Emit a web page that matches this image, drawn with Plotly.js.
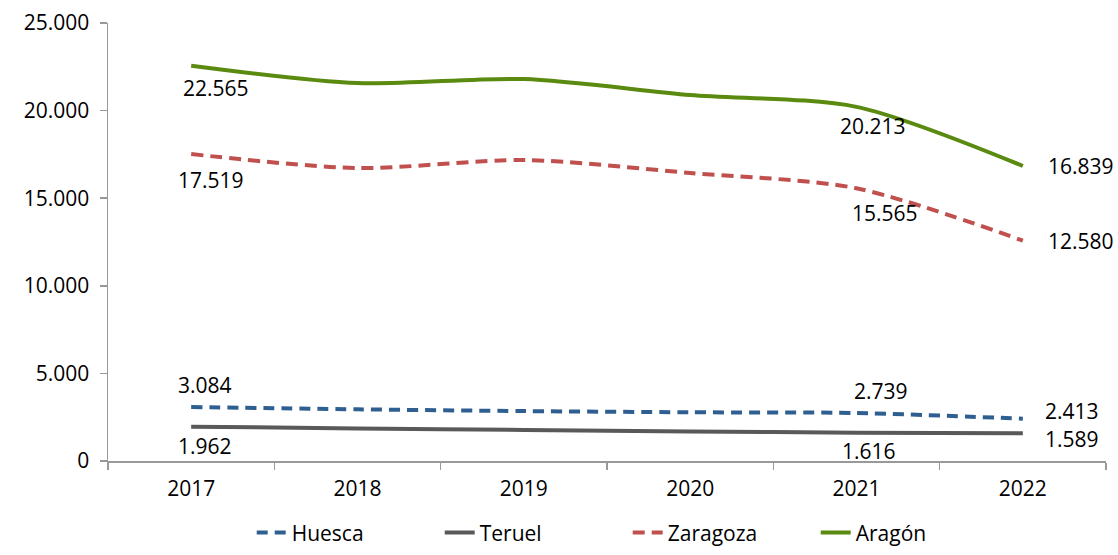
<!DOCTYPE html>
<html>
<head>
<meta charset="utf-8">
<script src="https://cdn.plot.ly/plotly-3.0.1.min.js"></script>
<style>html,body{margin:0;padding:0;background:#fff;}#chart{width:1118px;height:555px;}</style>
</head>
<body>
<div id="chart"></div>
<script>
const years = ['2017', '2018', '2019', '2020', '2021', '2022'];
const huesca = [3084, 2950, 2850, 2780, 2739, 2413];
const teruel = [1962, 1860, 1770, 1690, 1616, 1589];
const zaragoza = [17519, 16720, 17180, 16440, 15565, 12580];
const aragon = [22565, 21570, 21800, 20890, 20213, 16839];
const tickVals = [0, 5000, 10000, 15000, 20000, 25000];
const tickText = ['0', '5.000', '10.000', '15.000', '20.000', '25.000'];
const labeledIdx = [0, 4, 5];

const fmt = v => String(v).replace(/\B(?=(\d{3})+(?!\d))/g, '.');
const font = 'Open Sans, Noto Sans, sans-serif';

const series = [
  {name: 'Huesca', y: huesca, color: '#2F5F91', dash: '11px,7px',
   offs: [[14, 22], [24, 22], [49, 8]]},
  {name: 'Teruel', y: teruel, color: '#595959', dash: 'solid',
   offs: [[14, -19], [12, -18], [49, -6]]},
  {name: 'Zaragoza', y: zaragoza, color: '#C0504D', dash: '12px,7px',
   offs: [[20, -26], [28, -25], [58, 0]]},
  {name: 'Aragón', y: aragon, color: '#5A8A10', dash: 'solid',
   offs: [[25, -22], [16, -19], [58, 0]]}
];

const traces = series.map(s => ({
  type: 'scatter', mode: 'lines', name: s.name, x: years, y: s.y,
  line: {color: s.color, width: 4, dash: s.dash, shape: 'spline', smoothing: 0.8},
  hoverinfo: 'skip'
}));

const annotations = [];
series.forEach(s => {
  labeledIdx.forEach((i, k) => {
    annotations.push({
      x: i, y: s.y[i], xref: 'x', yref: 'y', text: fmt(s.y[i]),
      showarrow: false, xanchor: 'center', yanchor: 'middle',
      xshift: s.offs[k][0], yshift: s.offs[k][1],
      font: {family: font, size: 21, color: '#000'}
    });
  });
});

const layout = {
  width: 1118, height: 555,
  margin: {l: 108, r: 12, t: 23, b: 94, autoexpand: false},
  paper_bgcolor: '#fff', plot_bgcolor: '#fff',
  showlegend: true,
  legend: {orientation: 'h', x: 0.144, xanchor: 'left', yref: 'container', y: 0.04, yanchor: 'middle',
           font: {family: font, size: 21, color: '#000'}, entrywidth: 143, entrywidthmode: 'pixels',
           tracegroupgap: 0},
  xaxis: {type: 'category', range: [-0.5, 5.5], showgrid: false, zeroline: false,
          showline: true, linecolor: '#999', linewidth: 1.5,
          ticks: 'outside', tickson: 'boundaries', ticklen: 7, tickcolor: '#999', tickwidth: 1.5,
          tickfont: {family: font, size: 21, color: '#000'}, ticklabelstandoff: 8},
  yaxis: {range: [0, 25000], tickvals: tickVals, ticktext: tickText, showgrid: false,
          zeroline: false, showline: true, linecolor: '#999', linewidth: 1.5,
          ticks: 'outside', ticklen: 7, tickcolor: '#999', tickwidth: 1.5,
          tickfont: {family: font, size: 21, color: '#000'}, ticklabelstandoff: 6},
  annotations: annotations
};

Plotly.newPlot('chart', traces, layout, {displayModeBar: false, staticPlot: true});
</script>
</body>
</html>
